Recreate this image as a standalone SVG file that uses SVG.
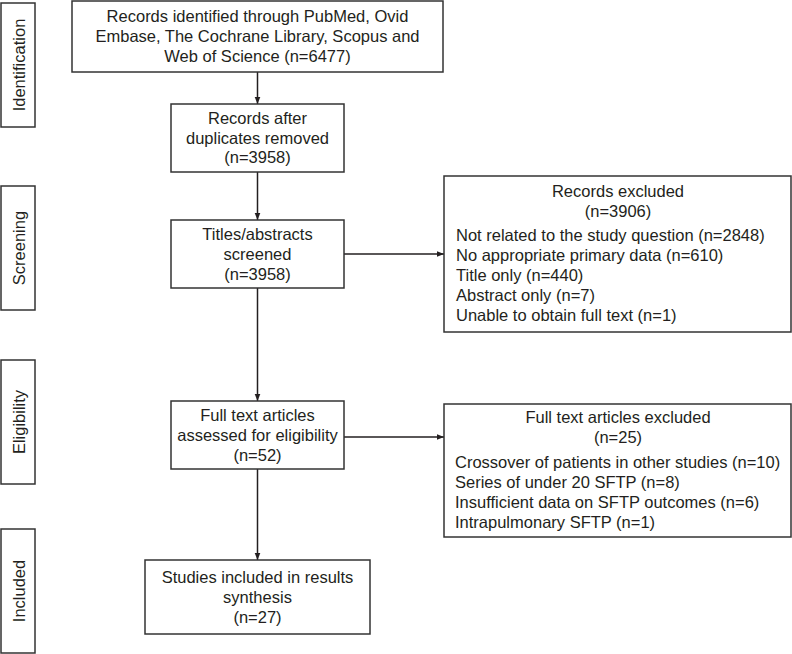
<svg xmlns="http://www.w3.org/2000/svg" width="792" height="654" viewBox="0 0 792 654">
<style>
rect{fill:#fff;stroke:#333;stroke-width:1.5}
text{font-family:"Liberation Sans",Arial,sans-serif;font-size:16.5px;fill:#231f20}
.c{text-anchor:middle}
.e line{stroke:#231f20;stroke-width:1.5}
</style>
<defs>
<marker id="a" viewBox="0 0 10 10" refX="10" refY="5" markerWidth="7" markerHeight="7" markerUnits="userSpaceOnUse" orient="auto"><path d="M0,1 L10,5 L0,9 z" fill="#231f20"/></marker>
</defs>
<rect width="792" height="654" style="fill:#fff;stroke:none"/>
<g id="lbl-identification"><rect x="1" y="3" width="34" height="124"/><text class="c" transform="translate(24.5,65) rotate(-90)">Identification</text></g>
<g id="lbl-screening"><rect x="1" y="186" width="34" height="124"/><text class="c" transform="translate(24.5,248) rotate(-90)">Screening</text></g>
<g id="lbl-eligibility"><rect x="1" y="360" width="34" height="124"/><text class="c" transform="translate(24.5,422) rotate(-90)">Eligibility</text></g>
<g id="lbl-included"><rect x="1" y="529" width="34" height="124"/><text class="c" transform="translate(24.5,591) rotate(-90)">Included</text></g>
<g class="e" id="connectors">
<line x1="257.5" y1="72" x2="257.5" y2="104" marker-end="url(#a)"/>
<line x1="257.5" y1="172" x2="257.5" y2="220" marker-end="url(#a)"/>
<line x1="344" y1="254" x2="444" y2="254" marker-end="url(#a)"/>
<line x1="257.5" y1="288" x2="257.5" y2="401" marker-end="url(#a)"/>
<line x1="344" y1="437" x2="444" y2="437" marker-end="url(#a)"/>
<line x1="257.5" y1="469" x2="257.5" y2="560" marker-end="url(#a)"/>
</g>
<g id="n-identified"><rect x="72" y="1" width="371" height="71"/>
<text class="c" x="257.5" y="22">Records identified through PubMed, Ovid</text>
<text class="c" x="257.5" y="42">Embase, The Cochrane Library, Scopus and</text>
<text class="c" x="257.5" y="62">Web of Science (n=6477)</text></g>
<g id="n-duplicates"><rect x="171" y="104" width="173" height="68"/>
<text class="c" x="257.5" y="124">Records after</text>
<text class="c" x="257.5" y="144">duplicates removed</text>
<text class="c" x="257.5" y="163">(n=3958)</text></g>
<g id="n-screened"><rect x="171" y="220" width="173" height="68"/>
<text class="c" x="257.5" y="240">Titles/abstracts</text>
<text class="c" x="257.5" y="260">screened</text>
<text class="c" x="257.5" y="280">(n=3958)</text></g>
<g id="n-excluded"><rect x="444" y="176" width="347" height="156"/>
<text class="c" x="618" y="197">Records excluded</text>
<text class="c" x="618" y="217">(n=3906)</text>
<text x="456" y="241">Not related to the study question (n=2848)</text>
<text x="456" y="261">No appropriate primary data (n=610)</text>
<text x="456" y="281">Title only (n=440)</text>
<text x="456" y="301">Abstract only (n=7)</text>
<text x="456" y="321">Unable to obtain full text (n=1)</text></g>
<g id="n-fulltext"><rect x="171" y="401" width="173" height="68"/>
<text class="c" x="257.5" y="421">Full text articles</text>
<text class="c" x="257.5" y="441">assessed for eligibility</text>
<text class="c" x="257.5" y="461">(n=52)</text></g>
<g id="n-ft-excluded"><rect x="444" y="404" width="347" height="133"/>
<text class="c" x="618" y="423">Full text articles excluded</text>
<text class="c" x="618" y="443">(n=25)</text>
<text x="455" y="468">Crossover of patients in other studies (n=10)</text>
<text x="455" y="488">Series of under 20 SFTP (n=8)</text>
<text x="455" y="508">Insufficient data on SFTP outcomes (n=6)</text>
<text x="455" y="528">Intrapulmonary SFTP (n=1)</text></g>
<g id="n-included"><rect x="145" y="560" width="225" height="74"/>
<text class="c" x="257.5" y="583">Studies included in results</text>
<text class="c" x="257.5" y="603">synthesis</text>
<text class="c" x="257.5" y="623">(n=27)</text></g>
</svg>
